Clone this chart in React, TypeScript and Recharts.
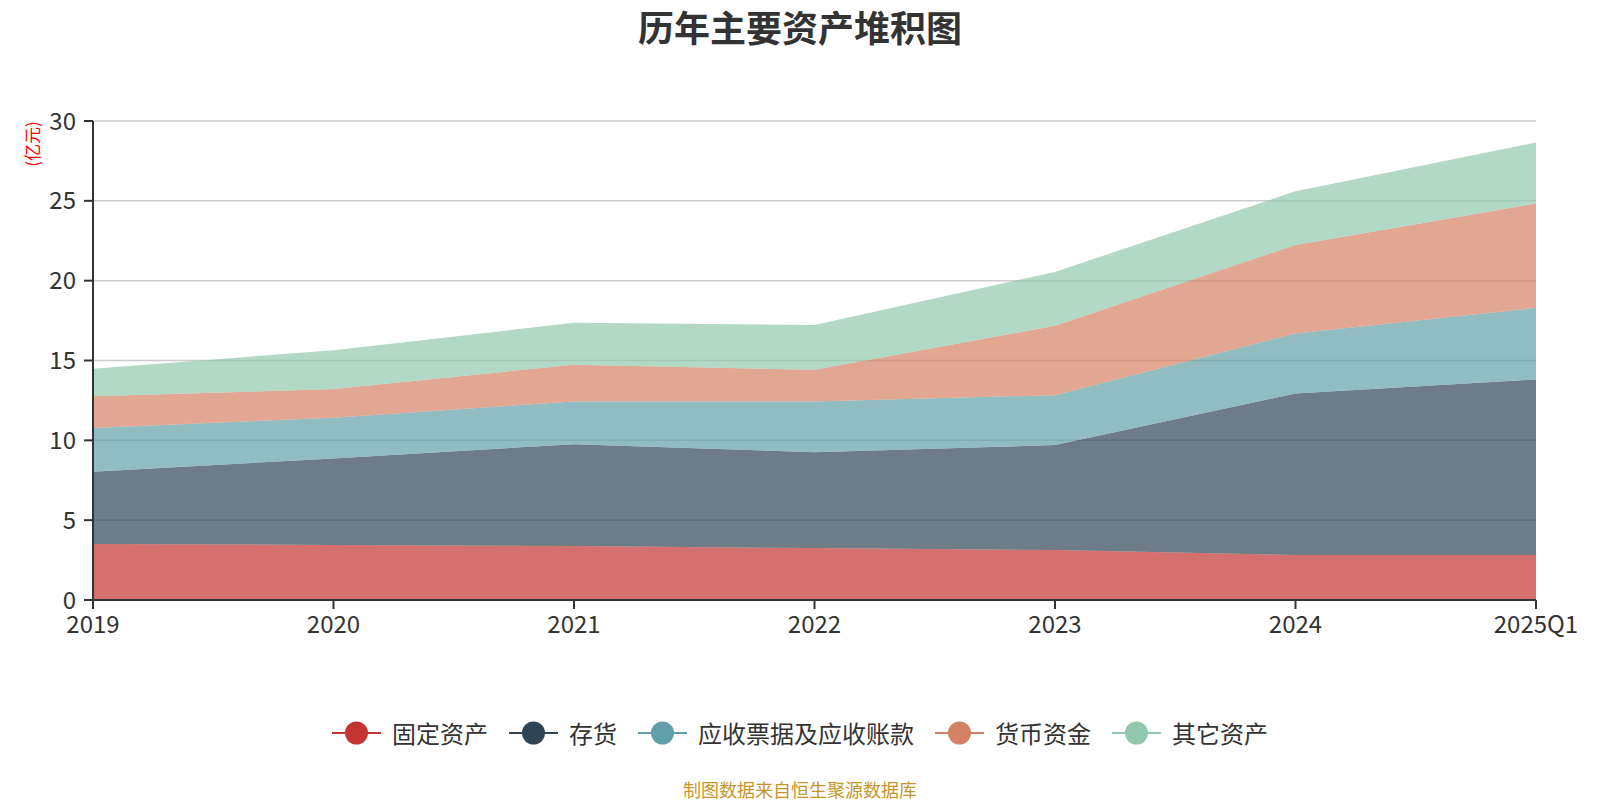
import { Area, AreaChart, CartesianGrid, XAxis, YAxis } from "recharts"

const years = ["2019", "2020", "2021", "2022", "2023", "2024", "2025Q1"]
// 亿元，逐层数值（堆积）
const fixedAssets = [3.51, 3.45, 3.38, 3.25, 3.13, 2.82, 2.82]
const inventory = [4.53, 5.42, 6.38, 6.0, 6.57, 10.12, 10.99]
const receivables = [2.74, 2.55, 2.68, 3.19, 3.13, 3.75, 4.49]
const cash = [1.98, 1.79, 2.3, 1.98, 4.34, 5.55, 6.53]
const others = [1.73, 2.43, 2.62, 2.81, 3.38, 3.36, 3.82]
const yTicks = [0, 5, 10, 15, 20, 25, 30]

const series = [
  { key: "fixed", name: "固定资产", color: "#c23531", values: fixedAssets },
  { key: "inventory", name: "存货", color: "#2f4554", values: inventory },
  { key: "receivables", name: "应收票据及应收账款", color: "#61a0a8", values: receivables },
  { key: "cash", name: "货币资金", color: "#d48265", values: cash },
  { key: "others", name: "其它资产", color: "#91c7ae", values: others },
]

const data = years.map((year, i) => {
  const row: Record<string, string | number> = { year }
  series.forEach((s) => {
    row[s.key] = s.values[i]
  })
  return row
})

const font = '"Noto Sans CJK SC", "Noto Sans", sans-serif'

function LegendRow() {
  return (
    <div
      style={{
        position: "absolute",
        top: 718,
        left: 0,
        width: 1600,
        display: "flex",
        justifyContent: "center",
        alignItems: "center",
        gap: 21,
      }}
    >
      {series.map((s) => (
        <div key={s.key} style={{ display: "flex", alignItems: "center" }}>
          <svg width={49} height={26} style={{ marginRight: 11 }}>
            <line x1={0} y1={13} x2={49} y2={13} stroke={s.color} strokeWidth={2} />
            <circle cx={24.5} cy={13} r={11.5} fill={s.color} />
          </svg>
          <span style={{ fontSize: 24, lineHeight: "30px", color: "#333" }}>{s.name}</span>
        </div>
      ))}
    </div>
  )
}

export default function App() {
  return (
    <div style={{ position: "absolute", left: 0, top: 0, width: 1600, height: 800, background: "#fff", fontFamily: font }}>
      <div
        style={{
          position: "absolute",
          top: 7,
          left: 0,
          width: 1600,
          textAlign: "center",
          fontSize: 36,
          lineHeight: "38px",
          fontWeight: "bold",
          color: "#333",
        }}
      >
        历年主要资产堆积图
      </div>
      <div
        style={{
          position: "absolute",
          left: 31,
          top: 144,
          transform: "translate(-50%, -50%) rotate(-90deg)",
          fontSize: 17,
          color: "#ff0000",
          whiteSpace: "nowrap",
        }}
      >
        (亿元)
      </div>
      <AreaChart width={1600} height={800} data={data} margin={{ top: 121, right: 64, left: 33, bottom: 170 }}>
        <CartesianGrid vertical={false} stroke="#ccc" strokeWidth={1.5} />
        <XAxis
          dataKey="year"
          tick={{ fill: "#333", fontSize: 24, fontFamily: font }}
          tickLine={{ stroke: "#333", strokeWidth: 2 }}
          axisLine={{ stroke: "#333", strokeWidth: 2 }}
          tickSize={9}
          tickMargin={7}
          height={30}
          interval={0}
        />
        <YAxis
          domain={[0, 30]}
          ticks={yTicks}
          width={60}
          tick={{ fill: "#333", fontSize: 24, fontFamily: font }}
          tickLine={{ stroke: "#333", strokeWidth: 2 }}
          axisLine={{ stroke: "#333", strokeWidth: 2 }}
          tickSize={9}
          tickMargin={8}
        />
        {series.map((s) => (
          <Area
            key={s.key}
            type="linear"
            dataKey={s.key}
            name={s.name}
            stackId="1"
            stroke="none"
            fill={s.color}
            fillOpacity={0.7}
            isAnimationActive={false}
          />
        ))}
      </AreaChart>
      <LegendRow />
      <div
        style={{
          position: "absolute",
          top: 780,
          left: 0,
          width: 1600,
          textAlign: "center",
          fontSize: 18,
          lineHeight: "18px",
          color: "#c8952a",
        }}
      >
        制图数据来自恒生聚源数据库
      </div>
    </div>
  )
}
